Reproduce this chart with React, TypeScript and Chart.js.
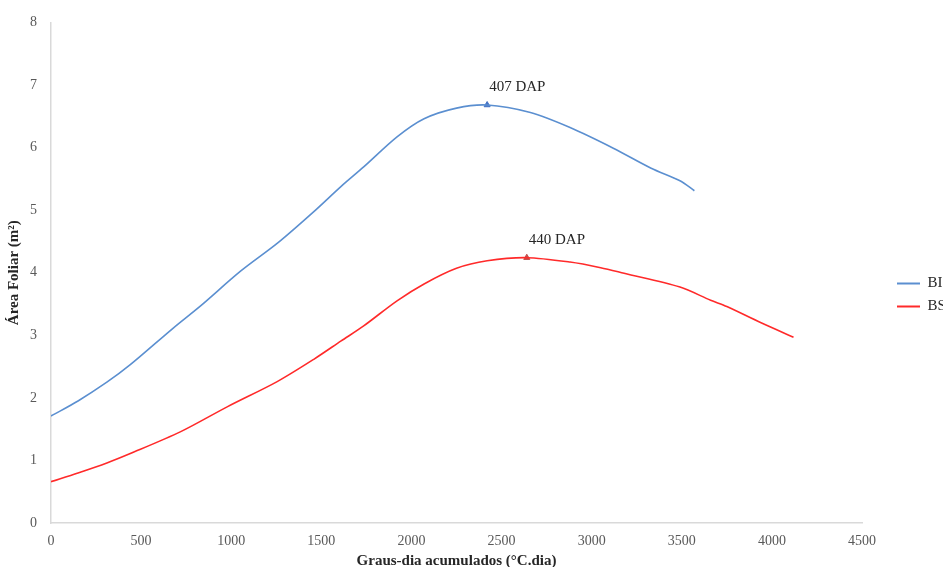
import React, { useEffect, useRef } from "react";
import { Chart, registerables } from "chart.js";

Chart.register(...registerables);

const biX = [0, 150, 310, 440, 680, 830, 1050, 1260, 1460, 1610, 1735, 1920, 2070, 2250, 2420, 2660, 2880, 3120, 3330, 3490, 3570];
const biY = [1.71, 1.95, 2.25, 2.53, 3.12, 3.47, 4.02, 4.48, 4.98, 5.38, 5.69, 6.17, 6.46, 6.63, 6.68, 6.56, 6.32, 5.99, 5.67, 5.47, 5.31];

const bsX = [0, 150, 310, 440, 720, 980, 1255, 1460, 1610, 1735, 1920, 2070, 2250, 2420, 2640, 2880, 3050, 3180, 3490, 3660, 3750, 3940, 4120];
const bsY = [0.66, 0.8, 0.96, 1.11, 1.46, 1.86, 2.26, 2.62, 2.91, 3.15, 3.55, 3.82, 4.07, 4.19, 4.24, 4.17, 4.08, 3.99, 3.77, 3.56, 3.46, 3.2, 2.97];

const seriesNames = ["BI", "BS"];
const peakX = [2420, 2640];
const peakY = [6.68, 4.24];
const peakLabels = ["407 DAP", "440 DAP"];

const xTitle = "Graus-dia acumulados (°C.dia)";
const yTitle = "Área Foliar (m²)";

const FONT = "'Liberation Serif', 'Times New Roman', serif";

const toPts = (xs: number[], ys: number[]) => xs.map((x, i) => ({ x, y: ys[i] }));

export default function App() {
  const ref = useRef<HTMLCanvasElement | null>(null);
  useEffect(() => {
    if (!ref.current) return;
    const peakLabelPlugin = {
      id: "peakLabels",
      afterDatasetsDraw(chart: any) {
        const ctx = chart.ctx;
        ctx.save();
        ctx.font = `15px ${FONT}`;
        ctx.fillStyle = "#262626";
        ctx.textAlign = "left";
        ctx.textBaseline = "alphabetic";
        [2, 3].forEach((di, k) => {
          const meta = chart.getDatasetMeta(di);
          const el = meta.data[0];
          if (!el) return;
          ctx.fillText(peakLabels[k], el.x + 2, el.y - 14);
        });
        ctx.restore();
      },
    };
    const legendPlacer = {
      id: "legendPlacer",
      beforeLayout(chart: any) {
        const lg = chart.legend;
        if (lg && !lg.__patched) {
          const orig = lg.fit.bind(lg);
          lg.fit = function () {
            orig();
            this.width = 81;
          };
          lg.__patched = true;
        }
      },
      afterLayout(chart: any) {
        const lg = chart.legend;
        if (!lg) return;
        const dx = 27;
        const dy = 1;
        lg.left += dx;
        lg.right += dx;
        lg.top += dy;
        lg.bottom += dy;
      },
    };
    const chart = new Chart(ref.current, {
      type: "line",
      data: {
        datasets: [
          {
            label: seriesNames[0],
            data: toPts(biX, biY),
            borderColor: "#5B8FD0",
            backgroundColor: "#5B8FD0",
            borderWidth: 1.6,
            pointRadius: 0,
            tension: 0.3,
          },
          {
            label: seriesNames[1],
            data: toPts(bsX, bsY),
            borderColor: "#FF2A2A",
            backgroundColor: "#FF2A2A",
            borderWidth: 1.6,
            pointRadius: 0,
            tension: 0.3,
          },
          {
            label: "peakBI",
            data: [{ x: peakX[0], y: peakY[0] }],
            showLine: false,
            pointStyle: "triangle",
            pointRadius: 3.5,
            backgroundColor: "#4472C4",
            borderColor: "#4472C4",
          },
          {
            label: "peakBS",
            data: [{ x: peakX[1], y: peakY[1] }],
            showLine: false,
            pointStyle: "triangle",
            pointRadius: 3.5,
            backgroundColor: "#C0504D",
            borderColor: "#C0504D",
          },
        ],
      },
      options: {
        animation: false,
        responsive: false,
        maintainAspectRatio: false,
        layout: { padding: { top: 21, right: 0, bottom: 0, left: 0 } },
        plugins: {
          tooltip: { enabled: false },
          legend: {
            position: "right",
            labels: {
              boxWidth: 23,
              boxHeight: 2,
              padding: 8,
              color: "#262626",
              font: { family: FONT, size: 15 },
              filter: (item: any) => item.datasetIndex < 2,
              generateLabels: (chart: any) => {
                const base = Chart.defaults.plugins.legend.labels.generateLabels(chart);
                return base.map((l: any) => ({ ...l, lineWidth: 0 }));
              },
            },
          },
        },
        scales: {
          x: {
            type: "linear",
            min: 0,
            max: 4500,
            afterFit: (s: any) => {
              s.height = 44;
            },
            ticks: {
              stepSize: 500,
              color: "#595959",
              padding: 10,
              maxRotation: 0,
              font: { family: FONT, size: 14 },
              callback: (v: any) => String(v),
            },
            grid: { display: false, drawTicks: false },
            border: { display: true, color: "#D9D9D9", width: 1.5 },
            title: {
              display: true,
              text: xTitle,
              color: "#262626",
              padding: 0,
              font: { family: FONT, size: 15, weight: "bold", lineHeight: 0.8 },
            },
          },
          y: {
            min: 0,
            max: 8,
            afterFit: (s: any) => {
              s.width = 51;
            },
            ticks: {
              stepSize: 1,
              color: "#595959",
              padding: 14,
              font: { family: FONT, size: 14 },
            },
            grid: { display: false, drawTicks: false },
            border: { display: true, color: "#D9D9D9", width: 1.5 },
            title: {
              display: true,
              text: yTitle,
              color: "#262626",
              padding: { top: 5, bottom: 0 },
              font: { family: FONT, size: 15, weight: "bold" },
            },
          },
        },
      },
      plugins: [peakLabelPlugin, legendPlacer],
    } as any);
    return () => chart.destroy();
  }, []);
  return (
    <div style={{ position: "fixed", left: 0, top: 0, width: 943, height: 567, background: "#fff" }}>
      <canvas ref={ref} width={943} height={567} style={{ width: 943, height: 567 }} />
    </div>
  );
}
